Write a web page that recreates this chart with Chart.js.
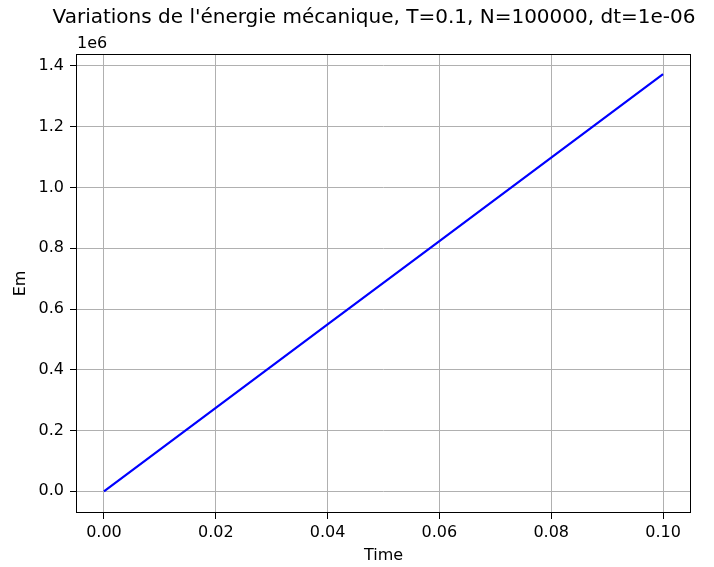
<!DOCTYPE html>
<html>
<head>
<meta charset="utf-8">
<script src="https://cdn.jsdelivr.net/npm/chart.js@4.4.1/dist/chart.umd.min.js"></script>
<style>
  html, body { margin: 0; padding: 0; background: #fff; }
  canvas { display: block; }
</style>
</head>
<body>
<canvas id="emChart" width="714" height="567"></canvas>
<script>
// energie mecanique en fonction du temps
const temps = [0, 0.02, 0.04, 0.06, 0.08, 0.10];
const energie = [0, 274600, 549200, 823800, 1098400, 1373000];

const ticksTemps = [0, 0.02, 0.04, 0.06, 0.08, 0.10];
const labelsTemps = ["0.00", "0.02", "0.04", "0.06", "0.08", "0.10"];
const ticksEm = [0, 200000, 400000, 600000, 800000, 1000000, 1200000, 1400000];
const labelsEm = ["0.0", "0.2", "0.4", "0.6", "0.8", "1.0", "1.2", "1.4"];

const titre = "Variations de l'énergie mécanique, T=0.1, N=100000, dt=1e-06";
const police = "DejaVu Sans";

const textes = {
    id: "textes",
    afterDraw(chart) {
        const ctx = chart.ctx;
        const a = chart.chartArea;
        ctx.save();
        // cadre complet autour de la zone du graphe
        ctx.strokeStyle = "#000";
        ctx.lineWidth = 1;
        ctx.strokeRect(a.left + 0.5, a.top + 0.5, a.right - a.left - 1, a.bottom - a.top - 1);

        ctx.fillStyle = "#000";
        ctx.textBaseline = "middle";
        ctx.textAlign = "center";
        ctx.font = "20px '" + police + "'";
        ctx.fillText(titre, 374, 18);

        ctx.font = "16px '" + police + "'";
        ctx.fillText("Time", (a.left + a.right) / 2, 556);

        ctx.textAlign = "left";
        ctx.fillText("1e6", a.left + 1, 44);

        ctx.translate(21, (a.top + a.bottom) / 2);
        ctx.rotate(-Math.PI / 2);
        ctx.textAlign = "center";
        ctx.fillText("Em", 0, 0);
        ctx.restore();
    }
};

new Chart(document.getElementById("emChart"), {
    type: "line",
    data: {
        datasets: [
            {
                data: temps.map((t, i) => ({ x: t, y: energie[i] })),
                borderColor: "#0000ff",
                borderWidth: 2.2,
                pointRadius: 0,
                tension: 0,
                fill: false,
            },
        ],
    },
    options: {
        responsive: false,
        animation: false,
        layout: { padding: { top: 54, right: 23, left: 0, bottom: 0 } },
        plugins: { legend: { display: false }, tooltip: { enabled: false } },
        scales: {
            x: {
                type: "linear",
                min: -0.005,
                max: 0.105,
                afterFit: (s) => { s.height = 54; },
                afterBuildTicks: (s) => { s.ticks = ticksTemps.map((v) => ({ value: v })); },
                ticks: {
                    font: { family: police, size: 16 },
                    color: "#000",
                    padding: 4,
                    maxRotation: 0,
                    callback: (v) => labelsTemps[ticksTemps.indexOf(v)],
                },
                grid: { color: "#b0b0b0", lineWidth: 1, tickLength: 6, tickColor: "#000" },
                border: { display: false },
            },
            y: {
                min: -71400,
                max: 1439500,
                afterFit: (s) => { s.width = 76; },
                afterBuildTicks: (s) => { s.ticks = ticksEm.map((v) => ({ value: v })); },
                ticks: {
                    font: { family: police, size: 16 },
                    color: "#000",
                    padding: 6,
                    callback: (v) => labelsEm[ticksEm.indexOf(v)],
                },
                grid: { color: "#b0b0b0", lineWidth: 1, tickLength: 6, tickColor: "#000" },
                border: { display: false },
            },
        },
    },
    plugins: [textes],
});
</script>
</body>
</html>
